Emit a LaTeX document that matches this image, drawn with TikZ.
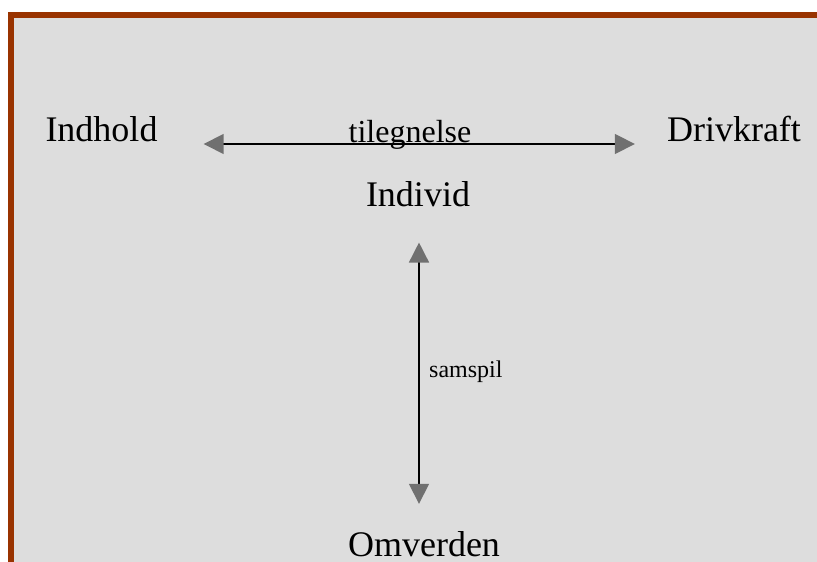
\documentclass[tikz,border=0pt]{standalone}
\usepackage{fontspec}
\setmainfont{Liberation Serif}
\usetikzlibrary{arrows.meta}
\definecolor{rammebrun}{RGB}{153,51,0}
\definecolor{baggrund}{RGB}{221,221,221}
\definecolor{pilgraa}{RGB}{112,112,112}

\begin{document}
\begin{tikzpicture}[x=1pt, y=1pt,
    begreb/.style={inner sep=0pt, font=\fontsize{36}{40}\selectfont},
    pilord/.style={inner sep=0pt, font=\fontsize{32}{36}\selectfont},
    smaaord/.style={inner sep=0pt, font=\fontsize{24}{28}\selectfont},
    pilspids/.style={Triangle[length=20pt, width=20pt, color=pilgraa]},
    tovej/.style={line width=1.5pt, {Triangle[length=20pt, width=20pt, color=pilgraa]}-{Triangle[length=20pt, width=20pt, color=pilgraa]}}]
                        \useasboundingbox (0,0) rectangle (817,562);
                        \clip (0,0) rectangle (817,562);
                        \draw[rammebrun, line width=6pt, fill=baggrund] (11,547) rectangle (840,-20);
                        \node[begreb, anchor=base] (indhold) at (101.5,420) {Indhold};
                        \node[begreb, anchor=base] (drivkraft) at (734,420) {Drivkraft};
                        \node[begreb, anchor=base] (individ) at (418,355) {Individ};
                        \node[begreb, anchor=base] (omverden) at (424,5) {Omverden};
                        \node[pilord, anchor=base] (tilegnelse) at (410,419) {tilegnelse};
                        \node[smaaord, anchor=base west] (samspil) at (429,184) {samspil};
                        \draw[tovej, shorten <=46pt, shorten >=32pt] ([yshift=-2pt]indhold.base east) -- ([yshift=-2pt]drivkraft.base west);
                        \draw[tovej, shorten <=35pt, shorten >=28pt] ([xshift=1pt]individ.south) -- ([xshift=1pt]individ.south |- omverden.north);
                    \end{tikzpicture}
\end{document}
